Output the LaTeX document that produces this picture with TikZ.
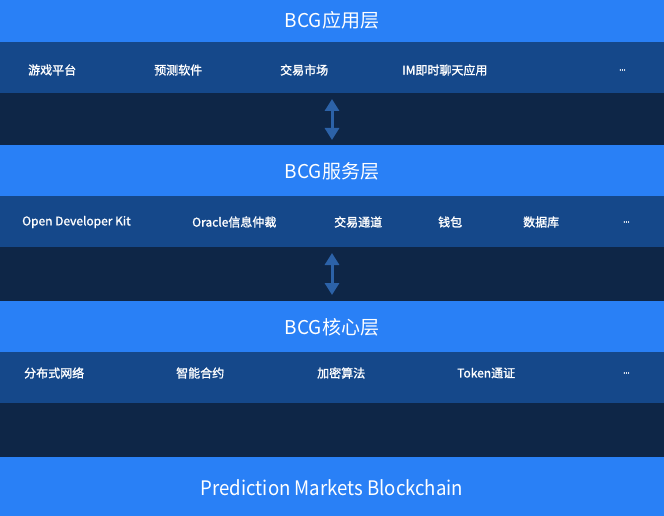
\documentclass[tikz,border=0pt]{standalone}
\usepackage{fontspec}
\setmainfont{Noto Sans CJK SC}
\newfontfamily\itemfont[FakeBold=1.3]{Noto Sans CJK SC}
\usetikzlibrary{arrows.meta}
\definecolor{bright}{RGB}{41,128,246}
\definecolor{mid}{RGB}{21,72,138}
\definecolor{dark}{RGB}{14,38,71}
\definecolor{arr}{RGB}{44,98,168}
\tikzset{
  band/.style={anchor=north west, minimum width=664pt, inner sep=0pt, outer sep=0pt},
  brightband/.style={band, fill=bright},
  midband/.style={band, fill=mid},
  darkband/.style={band, fill=dark},
  title/.style={text=white, font=\fontsize{19}{22}\selectfont, inner sep=0pt},
  item/.style={anchor=west, text=white, font=\fontsize{12}{14}\selectfont\itemfont, inner sep=0pt},
  updown/.style={arr, line width=3pt, {Triangle[width=14pt,length=12pt]}-{Triangle[width=14pt,length=12pt]}}
}
\newcommand{\dotsitem}{\scalebox{0.65}[1]{...}}
\begin{document}
\begin{tikzpicture}[x=1pt,y=-1pt]
\useasboundingbox (0,0) rectangle (664,516);
% bands
\node[brightband, minimum height=42pt] (t1) at (0,0) {};
\node[midband, minimum height=51pt] (m1) at (0,42) {};
\node[darkband, minimum height=52pt] (d1) at (0,93) {};
\node[brightband, minimum height=51pt] (t2) at (0,145) {};
\node[midband, minimum height=51pt] (m2) at (0,196) {};
\node[darkband, minimum height=54pt] (d2) at (0,247) {};
\node[brightband, minimum height=51pt] (t3) at (0,301) {};
\node[midband, minimum height=51pt] (m3) at (0,352) {};
\node[darkband, minimum height=54pt] (d3) at (0,403) {};
\node[brightband, minimum height=59pt] (t4) at (0,457) {};
% titles
\node[title] (title1) at (332,20) {BCG应用层};
\node[title] (title2) at (332,171) {BCG服务层};
\node[title] (title3) at (332,327) {BCG核心层};
\node[title, font=\fontsize{20}{24}\selectfont] (title4) at (332,488) {\scalebox{0.93}[1]{Prediction Markets Blockchain}};
% row 1
\node[item] (a1) at (28,70) {游戏平台};
\node[item] (a2) at (154,70) {预测软件};
\node[item] (a3) at (280,70) {交易市场};
\node[item] (a4) at (402,70) {IM即时聊天应用};
\node[item] (a5) at (619,70) {\dotsitem};
% row 2
\node[item] (b1) at (22,222) {Open Developer Kit};
\node[item] (b2) at (192,222) {Oracle信息仲裁};
\node[item] (b3) at (334,222) {交易通道};
\node[item] (b4) at (438,222) {钱包};
\node[item] (b5) at (523,222) {数据库};
\node[item] (b6) at (623,222) {\dotsitem};
% row 3
\node[item] (c1) at (24,373) {分布式网络};
\node[item] (c2) at (176,373) {智能合约};
\node[item] (c3) at (317,373) {加密算法};
\node[item] (c4) at (457,373) {Token通证};
\node[item] (c5) at (623,373) {\dotsitem};
% arrows
\coordinate (u1) at (332,99);
\coordinate (l1) at (332,140);
\coordinate (u2) at (332,253);
\coordinate (l2) at (332,295);
\draw[updown] (u1) -- (l1);
\draw[updown] (u2) -- (l2);
\end{tikzpicture}
\end{document}
